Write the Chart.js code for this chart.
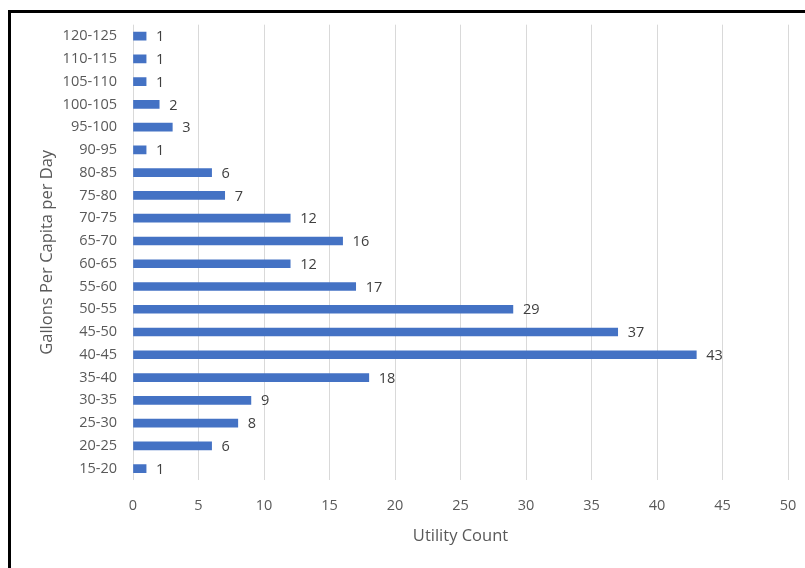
<!DOCTYPE html>
<html>
<head>
<meta charset="utf-8">
<script src="https://cdn.jsdelivr.net/npm/chart.js@4.4.0/dist/chart.umd.min.js"></script>
<style>
  html, body { margin: 0; padding: 0; background: #fff; }
  #wrap { position: relative; width: 805px; height: 568px; overflow: hidden; }
  #frame { position: absolute; left: 8px; top: 10px; width: 900px; height: 700px;
           border-left: 3px solid #000; border-top: 3px solid #000; }
  canvas { position: absolute; left: 0; top: 0; }
</style>
</head>
<body>
<div id="wrap">
  <div id="frame"></div>
  <canvas id="chart" width="805" height="568"></canvas>
</div>
<script>
// --- Данные ---
const categories = ['120-125', '110-115', '105-110', '100-105', '95-100', '90-95', '80-85', '75-80',
  '70-75', '65-70', '60-65', '55-60', '50-55', '45-50', '40-45', '35-40', '30-35', '25-30', '20-25', '15-20'];
const counts = [1, 1, 1, 2, 3, 1, 6, 7, 12, 16, 12, 17, 29, 37, 43, 18, 9, 8, 6, 1];
const xTicks = [0, 5, 10, 15, 20, 25, 30, 35, 40, 45, 50];

const FONT = '"Open Sans", "Liberation Sans", sans-serif';
const textColor = '#595959';

// Подписи значений справа от столбцов
const valueLabels = {
  id: 'valueLabels',
  afterDatasetsDraw(chart) {
    const { ctx } = chart;
    const meta = chart.getDatasetMeta(0);
    ctx.save();
    ctx.font = '14.5px ' + FONT;
    ctx.fillStyle = '#404040';
    ctx.textAlign = 'left';
    ctx.textBaseline = 'middle';
    meta.data.forEach((bar, i) => {
      ctx.fillText(String(counts[i]), bar.x + 10, bar.y + 1);
    });
    ctx.restore();
  }
};

new Chart(document.getElementById('chart'), {
  type: 'bar',
  data: {
    labels: categories,
    datasets: [{
      data: counts,
      backgroundColor: '#4472C4',
      barThickness: 8
    }]
  },
  options: {
    indexAxis: 'y',
    responsive: false,
    animation: false,
    layout: { padding: { top: 24, right: 17, bottom: 0, left: 0 } },
    plugins: { legend: { display: false }, tooltip: { enabled: false } },
    scales: {
      x: {
        min: 0, max: 50,
        // фиксированная высота оси и без лишних отступов справа
        afterFit: (s) => { s.height = 88; s.paddingLeft = 0; s.paddingRight = 0; },
        afterBuildTicks: (s) => { s.ticks = xTicks.map(v => ({ value: v })); },
        grid: { color: '#d9d9d9', lineWidth: 1, drawTicks: false },
        border: { display: false },
        ticks: { color: textColor, font: { family: FONT, size: 14.5 }, padding: 17 },
        title: { display: true, text: 'Utility Count', color: textColor,
                 font: { family: FONT, size: 16.5 }, padding: { top: 0, bottom: 22 } }
      },
      y: {
        afterFit: (s) => { s.width = 133; },
        grid: { display: false, drawTicks: false },
        border: { display: false },
        ticks: { color: textColor, font: { family: FONT, size: 14.5 }, padding: 16, autoSkip: false },
        title: { display: true, text: 'Gallons Per Capita per Day', color: textColor,
                 font: { family: FONT, size: 16.5 }, padding: { top: 37, bottom: 0 } }
      }
    }
  },
  plugins: [valueLabels]
});
</script>
</body>
</html>
